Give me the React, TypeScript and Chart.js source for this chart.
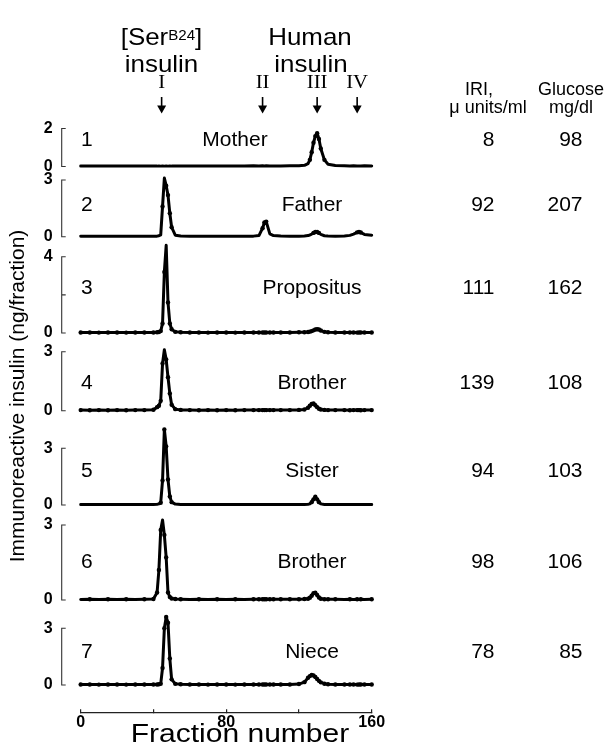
import React, { useEffect, useRef } from 'react';
import { Chart, registerables } from 'chart.js';

Chart.register(...registerables);

// ---------------- data ----------------
const fractions = [
  0, 5, 10, 15, 20, 25, 30, 35, 40,
  42, 43, 44, 45, 46, 47, 48, 49, 50,
  52, 55, 60, 65, 70, 75, 80, 85, 90, 95,
  98, 100, 101, 102, 104, 106,
  110, 115, 120,
  123, 125, 126, 127, 128, 129, 130, 131, 132,
  134, 136, 140, 145,
  148, 150, 152, 153, 154, 156, 160,
];

const motherValues = [
  0.03, 0.02, 0.03, 0.02, 0.03, 0.02, 0.03, 0.02, 0.03,
  0.02, 0.03, 0.02, 0.03, 0.02, 0.03, 0.02, 0.03, 0.02,
  0.03, 0.02, 0.03, 0.02, 0.03, 0.02, 0.03, 0.02, 0.03, 0.04,
  0.03, 0.04, 0.03, 0.04, 0.03, 0.03,
  0.03, 0.04, 0.04,
  0.06, 0.15, 0.35, 0.75, 1.25, 1.6, 1.75, 1.45, 0.95,
  0.35, 0.12, 0.05, 0.04,
  0.03, 0.04, 0.03, 0.03, 0.03, 0.04, 0.03,
];

const fatherValues = [
  0.03, 0.02, 0.03, 0.03, 0.02, 0.03, 0.02, 0.03, 0.03,
  0.03, 0.05, 0.1, 1.6, 3.1, 2.7, 2.2, 1.24, 0.5,
  0.08, 0.04, 0.03, 0.02, 0.03, 0.02, 0.03, 0.02, 0.03, 0.03,
  0.06, 0.45, 0.75, 0.8, 0.15, 0.06,
  0.04, 0.03, 0.03,
  0.04, 0.06, 0.09, 0.14, 0.2, 0.25, 0.25, 0.2, 0.12,
  0.05, 0.04, 0.03, 0.04,
  0.07, 0.14, 0.23, 0.25, 0.22, 0.12, 0.08,
];

const propositusValues = [
  0.03, 0.03, 0.02, 0.03, 0.03, 0.02, 0.03, 0.03, 0.03,
  0.04, 0.05, 0.1, 0.5, 3.2, 4.6, 1.6, 0.5, 0.2,
  0.06, 0.04, 0.03, 0.03, 0.02, 0.03, 0.03, 0.02, 0.03, 0.03,
  0.03, 0.03, 0.03, 0.03, 0.03, 0.03,
  0.03, 0.03, 0.04,
  0.04, 0.05, 0.07, 0.1, 0.14, 0.18, 0.2, 0.18, 0.13,
  0.06, 0.04, 0.03, 0.03,
  0.03, 0.03, 0.02, 0.03, 0.03, 0.03, 0.03,
];

const brotherValues = [
  0.03, 0.02, 0.03, 0.02, 0.03, 0.02, 0.03, 0.03, 0.05,
  0.18, 0.25, 0.5, 2.4, 3.1, 2.6, 1.7, 0.88, 0.3,
  0.08, 0.04, 0.03, 0.02, 0.03, 0.02, 0.03, 0.02, 0.03, 0.03,
  0.03, 0.03, 0.03, 0.03, 0.03, 0.03,
  0.03, 0.03, 0.04,
  0.06, 0.15, 0.25, 0.34, 0.37, 0.28, 0.18, 0.1, 0.06,
  0.04, 0.03, 0.03, 0.03,
  0.02, 0.03, 0.03, 0.03, 0.02, 0.03, 0.03,
];

const sisterValues = [
  0.03, 0.02, 0.03, 0.03, 0.02, 0.03, 0.02, 0.03, 0.03,
  0.04, 0.06, 0.12, 1.3, 4.0, 3.1, 1.35, 0.45, 0.15,
  0.05, 0.03, 0.03, 0.02, 0.03, 0.02, 0.03, 0.02, 0.03, 0.03,
  0.03, 0.03, 0.03, 0.03, 0.03, 0.03,
  0.03, 0.03, 0.03,
  0.03, 0.04, 0.06, 0.15, 0.3, 0.44, 0.3, 0.15, 0.06,
  0.03, 0.03, 0.03, 0.03,
  0.03, 0.02, 0.03, 0.03, 0.03, 0.02, 0.03,
];

const brother2Values = [
  0.02, 0.03, 0.02, 0.03, 0.02, 0.03, 0.02, 0.03, 0.04,
  0.3, 1.2, 2.8, 3.2, 2.6, 1.7, 0.3, 0.12, 0.06,
  0.04, 0.03, 0.02, 0.03, 0.02, 0.03, 0.02, 0.03, 0.02, 0.03,
  0.03, 0.03, 0.03, 0.03, 0.03, 0.03,
  0.03, 0.03, 0.03,
  0.04, 0.05, 0.09, 0.17, 0.27, 0.29, 0.2, 0.1, 0.05,
  0.03, 0.03, 0.03, 0.02,
  0.03, 0.02, 0.03, 0.02, 0.03, 0.02, 0.03,
];

const nieceValues = [
  0.03, 0.03, 0.02, 0.03, 0.03, 0.02, 0.03, 0.03, 0.03,
  0.03, 0.04, 0.06, 0.9, 3.0, 3.6, 3.3, 1.4, 0.3,
  0.06, 0.04, 0.03, 0.03, 0.02, 0.03, 0.03, 0.02, 0.03, 0.03,
  0.03, 0.03, 0.03, 0.03, 0.03, 0.03,
  0.03, 0.03, 0.05,
  0.15, 0.38, 0.47, 0.53, 0.5, 0.42, 0.32, 0.22, 0.14,
  0.07, 0.04, 0.03, 0.03,
  0.03, 0.03, 0.02, 0.03, 0.03, 0.03, 0.03,
];

const panelSeries = [
  motherValues, fatherValues, propositusValues, brotherValues,
  sisterValues, brother2Values, nieceValues,
];
const panelNumbers = ['1', '2', '3', '4', '5', '6', '7'];
const panelNames = ['Mother', 'Father', 'Propositus', 'Brother', 'Sister', 'Brother', 'Niece'];
const iriValues = ['8', '92', '111', '139', '94', '98', '78'];
const glucoseValues = ['98', '207', '162', '108', '103', '106', '85'];
const yTickSets = [[0, 2], [0, 3], [0, 2, 4], [0, 3], [0, 3], [0, 3], [0, 3]];
const xTickValues = [0, 40, 80, 120, 160];
const xTickLabeled = [0, 80, 160];
const arrowFractions = [44.5, 100, 130, 152];
const arrowLabels = ['I', 'II', 'III', 'IV'];

// ---------------- layout ----------------
const W = 606;
const H = 756;
const PLOT_LEFT = 80.7;
const PLOT_RIGHT = 371.7;
const AXIS_Y = 712.7;
const BRACKET_X = 61.7;
const SEG = [100, 172, 242, 342, 420, 512, 608, 700];
const TOP_PX = [128.5, 180, 256.7, 351.7, 448.3, 525, 628.3];
const ZERO_PX = [166.5, 236.7, 333, 410.7, 505, 600, 685];
const ROW_Y = [139, 203.3, 286.7, 381.7, 470, 560.7, 650.7];
const NAME_X = [235, 312, 312, 312, 312, 312, 312];

const SANS = '"Liberation Sans", Arial, Helvetica, sans-serif';
const SERIF = '"Liberation Serif", "Times New Roman", serif';

type TxtOpts = { weight?: string; family?: string; stretch?: number };

function txt(
  ctx: CanvasRenderingContext2D, s: string, x: number, y: number, size: number,
  align: 'left' | 'center' | 'right' = 'left', opts: TxtOpts = {},
) {
  ctx.save();
  ctx.font = `${opts.weight || 'normal'} ${size}px ${opts.family || SANS}`;
  ctx.fillStyle = '#000';
  ctx.textBaseline = 'alphabetic';
  ctx.textAlign = 'left';
  const sx = opts.stretch || 1;
  const w = ctx.measureText(s).width * sx;
  const left = align === 'left' ? x : align === 'center' ? x - w / 2 : x - w;
  ctx.translate(left, y);
  ctx.scale(sx, 1);
  ctx.fillText(s, 0, 0);
  ctx.restore();
}

function measure(ctx: CanvasRenderingContext2D, s: string, size: number, sx = 1) {
  ctx.save();
  ctx.font = `normal ${size}px ${SANS}`;
  const w = ctx.measureText(s).width * sx;
  ctx.restore();
  return w;
}

const annotationPlugin = {
  id: 'figureAnnotations',
  afterDraw(chart: any) {
    const ctx: CanvasRenderingContext2D = chart.ctx;
    const xs = chart.scales.x;
    const HS = 1.08;

    // header: [Ser^B24] insulin / Human insulin
    const w1 = measure(ctx, '[Ser', 24, HS);
    const w2 = measure(ctx, 'B24', 14, HS);
    const w3 = measure(ctx, ']', 24, HS);
    let hx = 161.5 - (w1 + w2 + w3) / 2;
    txt(ctx, '[Ser', hx, 45.3, 24, 'left', { stretch: HS });
    hx += w1;
    txt(ctx, 'B24', hx, 39.5, 14, 'left', { stretch: HS });
    hx += w2;
    txt(ctx, ']', hx, 45.3, 24, 'left', { stretch: HS });
    txt(ctx, 'insulin', 161.5, 72, 24, 'center', { stretch: HS });
    txt(ctx, 'Human', 310, 45.3, 24, 'center', { stretch: HS });
    txt(ctx, 'insulin', 311, 72, 24, 'center', { stretch: HS });

    // roman numerals and arrows
    arrowFractions.forEach((f, i) => {
      const px = xs.getPixelForValue(f);
      txt(ctx, arrowLabels[i], px, 88, 18, 'center', { family: SERIF, stretch: 1.15 });
      ctx.save();
      ctx.strokeStyle = '#000';
      ctx.fillStyle = '#000';
      ctx.lineWidth = 1.6;
      ctx.beginPath();
      ctx.moveTo(px, 97);
      ctx.lineTo(px, 107);
      ctx.stroke();
      ctx.beginPath();
      ctx.moveTo(px - 4.5, 105.5);
      ctx.lineTo(px + 4.5, 105.5);
      ctx.lineTo(px, 113.5);
      ctx.closePath();
      ctx.fill();
      ctx.restore();
    });

    // column headers
    txt(ctx, 'IRI,', 479, 94.6, 18, 'center');
    txt(ctx, '\u03bc units/ml', 488, 113, 18, 'center');
    txt(ctx, 'Glucose', 571, 94.6, 18, 'center');
    txt(ctx, 'mg/dl', 571, 113, 18, 'center');

    // rows
    ROW_Y.forEach((cy, i) => {
      const by = cy + 7.2;
      txt(ctx, panelNumbers[i], 81, by, 20, 'left', { stretch: 1.05 });
      txt(ctx, panelNames[i], NAME_X[i], by, 20, 'center', { stretch: 1.05 });
      txt(ctx, iriValues[i], 494.5, by, 20, 'right', { stretch: 1.05 });
      txt(ctx, glucoseValues[i], 582.5, by, 20, 'right', { stretch: 1.05 });
    });

    // y title
    ctx.save();
    ctx.translate(18, 396);
    ctx.rotate(-Math.PI / 2);
    ctx.font = `normal 21px ${SANS}`;
    ctx.fillStyle = '#000';
    ctx.textAlign = 'center';
    ctx.textBaseline = 'middle';
    ctx.fillText('Immunoreactive insulin (ng/fraction)', 0, 0);
    ctx.restore();

    // x title
    txt(ctx, 'Fraction number', 240, 741.7, 25, 'center', { stretch: 1.2 });
  },
};

function makeBackground(canvas: HTMLCanvasElement) {
  return new Chart(canvas, {
    type: 'line',
    data: { datasets: [] },
    options: {
      animation: false,
      responsive: false,
      events: [],
      layout: { padding: { left: PLOT_LEFT, right: W - PLOT_RIGHT, top: 0, bottom: 0 } },
      plugins: { legend: { display: false }, tooltip: { enabled: false } },
      scales: {
        x: {
          type: 'linear',
          position: 'bottom',
          min: 0,
          max: 160,
          afterFit: (s: any) => { s.height = H - AXIS_Y; },
          afterBuildTicks: (s: any) => { s.ticks = xTickValues.map((v) => ({ value: v })); },
          ticks: {
            autoSkip: false,
            maxRotation: 0,
            padding: 3.7,
            color: '#000',
            font: { family: SANS, size: 16, weight: 'bold' },
            callback: (v: any) => (xTickLabeled.includes(Number(v)) ? String(v) : ''),
          },
          grid: { drawOnChartArea: false, drawTicks: true, tickLength: -3.5, color: '#222', lineWidth: 1.2 },
          border: { display: true, color: '#222', width: 1.2 },
        },
        y: { display: false, min: 0, max: 1 },
      },
    } as any,
    plugins: [annotationPlugin],
  });
}

function makePanel(canvas: HTMLCanvasElement, i: number) {
  const segTop = SEG[i];
  const zero = ZERO_PX[i] - segTop;
  const topP = TOP_PX[i] - segTop;
  const ticks = yTickSets[i];
  const maxV = ticks[ticks.length - 1];
  const k = (zero - topP) / maxV;
  const geometry = {
    id: 'panelGeometry',
    afterLayout(ch: any) {
      const s = ch.scales.y;
      s.min = (zero - s.bottom) / k;
      s.max = (zero - s.top) / k;
      s.configure();
    },
    afterDraw(ch: any) {
      const s = ch.scales.y;
      const ctx: CanvasRenderingContext2D = ch.ctx;
      const y0 = s.getPixelForValue(0);
      const y1 = s.getPixelForValue(maxV);
      ctx.save();
      ctx.strokeStyle = '#333';
      ctx.lineWidth = 1.1;
      ctx.beginPath();
      ctx.moveTo(BRACKET_X + 4, y1);
      ctx.lineTo(BRACKET_X, y1);
      ctx.lineTo(BRACKET_X, y0);
      ctx.lineTo(BRACKET_X + 4, y0);
      ticks.slice(1, -1).forEach((t) => {
        const ym = s.getPixelForValue(t);
        ctx.moveTo(BRACKET_X, ym);
        ctx.lineTo(BRACKET_X + 4, ym);
      });
      ctx.stroke();
      ctx.restore();
    },
  };
  return new Chart(canvas, {
    type: 'line',
    data: {
      datasets: [{
        data: fractions.map((f, j) => ({ x: f, y: panelSeries[i][j] })),
        borderColor: '#000',
        backgroundColor: '#000',
        borderWidth: 3,
        borderJoinStyle: 'round',
        borderCapStyle: 'round',
        pointRadius: 2.2,
        pointBorderWidth: 0,
        pointBackgroundColor: '#000',
        tension: 0,
        clip: false,
      }],
    },
    options: {
      animation: false,
      responsive: false,
      events: [],
      layout: { padding: { left: 0, right: W - PLOT_RIGHT, top: 0, bottom: 0 } },
      plugins: { legend: { display: false }, tooltip: { enabled: false } },
      scales: {
        x: { type: 'linear', min: 0, max: 160, display: false },
        y: {
          type: 'linear',
          min: -1,
          max: maxV + 1,
          afterFit: (s: any) => { s.width = PLOT_LEFT; },
          afterBuildTicks: (s: any) => { s.ticks = ticks.map((v) => ({ value: v })); },
          ticks: {
            autoSkip: false,
            padding: 3,
            color: '#000',
            font: { family: SANS, size: 16, weight: 'bold' },
            callback: (v: any) => (Number(v) === 0 || Number(v) === maxV ? String(v) : ''),
          },
          grid: { display: true, drawOnChartArea: false, drawTicks: true, tickLength: 25, color: 'rgba(0,0,0,0)' },
          border: { display: false },
        },
      },
    } as any,
    plugins: [geometry],
  });
}

export default function App() {
  const bgRef = useRef<HTMLCanvasElement | null>(null);
  const panelRefs = useRef<(HTMLCanvasElement | null)[]>([]);

  useEffect(() => {
    const charts: Chart[] = [];
    if (bgRef.current) charts.push(makeBackground(bgRef.current));
    panelRefs.current.forEach((c, i) => {
      if (c) charts.push(makePanel(c, i));
    });
    return () => charts.forEach((c) => c.destroy());
  }, []);

  return (
    <div style={{ position: 'absolute', left: 0, top: 0, width: W, height: H, background: '#fff' }}>
      <canvas
        ref={bgRef}
        width={W}
        height={H}
        style={{ position: 'absolute', left: 0, top: 0, width: W, height: H }}
      />
      {panelSeries.map((_, i) => (
        <canvas
          key={i}
          ref={(el) => { panelRefs.current[i] = el; }}
          width={W}
          height={SEG[i + 1] - SEG[i]}
          style={{ position: 'absolute', left: 0, top: SEG[i], width: W, height: SEG[i + 1] - SEG[i] }}
        />
      ))}
    </div>
  );
}
